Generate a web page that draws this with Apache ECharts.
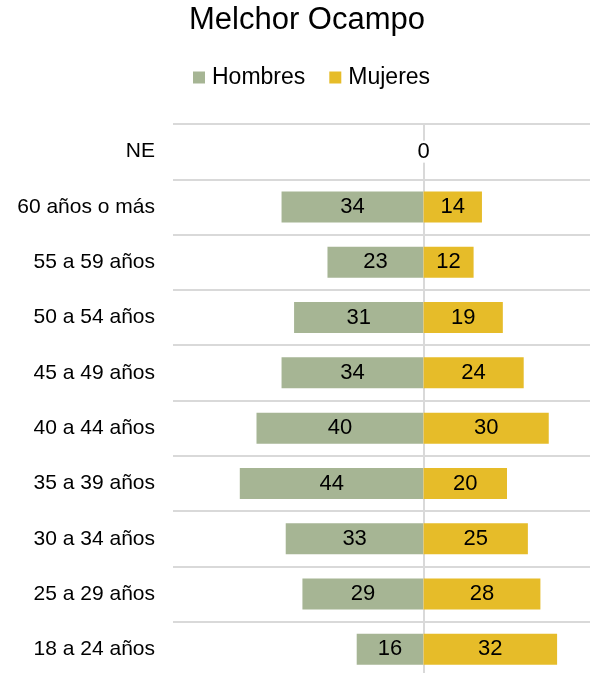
<!DOCTYPE html>
<html>
<head>
<meta charset="utf-8">
<script src="https://cdn.jsdelivr.net/npm/echarts@6/dist/echarts.min.js"></script>
<style>
  html, body { margin: 0; padding: 0; overflow: hidden; background: #fff; }
  #main { width: 680px; height: 690px; }
</style>
</head>
<body>
<div id="main"></div>
<script>
// categorías de edad, de arriba hacia abajo
var categorias = ["NE", "60 años o más", "55 a 59 años", "50 a 54 años", "45 a 49 años",
  "40 a 44 años", "35 a 39 años", "30 a 34 años", "25 a 29 años", "18 a 24 años"];
var hombres = [null, 34, 23, 31, 34, 40, 44, 33, 29, 16];
var mujeres = [0, 14, 12, 19, 24, 30, 20, 25, 28, 32];

var myChart = echarts.init(document.getElementById("main"));

var fuente = "Liberation Sans, Arial, sans-serif";

// el 0 de NE va sobre la línea del eje, con fondo blanco
var datosMujeres = mujeres.map(function (v) {
  if (v === 0) {
    return { value: v, label: { backgroundColor: "#fff", padding: [0, 1] } };
  }
  return v;
});

var option = {
  color: ["#a6b594", "#e6bc29"],
  animation: false,
  title: {
    text: "Melchor Ocampo",
    left: 189,
    top: 5,
    padding: 0,
    textStyle: { fontSize: 31, fontWeight: "normal", color: "#000", fontFamily: fuente }
  },
  legend: {
    data: ["Hombres", "Mujeres"],
    left: 193,
    top: 66,
    padding: 0,
    icon: "rect",
    itemWidth: 12,
    itemHeight: 12,
    itemGap: 24,
    textStyle: { fontSize: 23, color: "#000", fontFamily: fuente, padding: [0, 0, 0, 2] }
  },
  grid: {
    left: 173,
    top: 124,
    width: 501,
    height: 553
  },
  xAxis: {
    type: "value",
    min: -60,
    max: 60,
    show: false
  },
  yAxis: {
    type: "category",
    inverse: true,
    data: categorias,
    axisLine: { show: false },
    axisTick: { show: false },
    axisLabel: { margin: 18, fontSize: 21, color: "#000", fontFamily: fuente },
    splitLine: { show: true, lineStyle: { color: "#d9d9d9", width: 2 } }
  },
  series: [
    {
      name: "Hombres",
      type: "bar",
      stack: "total",
      barWidth: 31,
      z: 1,
      data: hombres.map(function (v) { return v == null ? null : -v; }),
      label: {
        show: true,
        position: "inside",
        fontSize: 22,
        color: "#000",
        fontFamily: fuente,
        formatter: function (p) { return Math.abs(p.value); }
      },
      markLine: {
        silent: true,
        z: 2,
        symbol: "none",
        label: { show: false },
        lineStyle: { color: "#d9d9d9", width: 2, type: "solid" },
        data: [{ xAxis: 0 }]
      }
    },
    {
      name: "Mujeres",
      type: "bar",
      stack: "total",
      barWidth: 31,
      z: 3,
      data: datosMujeres,
      label: {
        show: true,
        position: "inside",
        fontSize: 22,
        color: "#000",
        fontFamily: fuente
      }
    }
  ]
};

myChart.setOption(option);
</script>
</body>
</html>
